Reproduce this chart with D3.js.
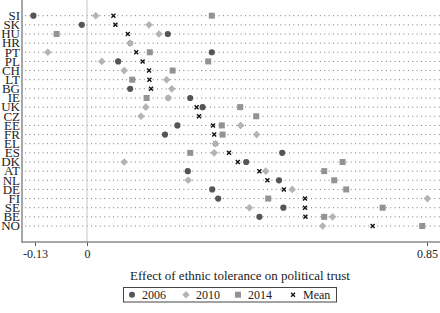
<!DOCTYPE html>
<html>
<head>
<meta charset="utf-8">
<script src="https://cdn.jsdelivr.net/npm/d3@7"></script>
<style>
  body { margin: 0; background: #fff; }
  text { font-family: "Liberation Serif", "DejaVu Serif", serif; fill: #222; }
</style>
</head>
<body>
<div id="chart"></div>
<script>
var countries = ["SI","SK","HU","HR","PT","PL","CH","LT","BG","IE","UK","CZ",
                 "EE","FR","EL","ES","DK","AT","NL","DE","FI","SE","BE","NO"];
var y2006 = [-0.134,-0.013,0.202,null,0.312,0.078,null,null,0.108,0.258,0.289,null,
             0.226,0.195,null,0.488,0.398,0.252,0.480,0.313,0.328,0.491,0.431,null];
var y2010 = [0.022,0.155,0.180,0.108,-0.098,0.037,0.093,0.199,0.212,0.203,0.147,0.135,
             0.384,0.424,0.321,0.318,0.093,0.447,0.253,0.513,0.851,0.406,0.614,0.589];
var y2014 = [0.312,null,-0.076,null,0.157,0.303,0.214,0.113,null,0.149,0.383,0.423,
             0.337,0.339,null,0.258,0.639,0.593,0.618,0.648,0.453,0.739,0.593,0.838];
var means = [0.066,0.071,0.102,0.108,0.123,0.139,0.155,0.156,0.160,0.203,0.274,0.280,
             0.315,0.318,0.321,0.355,0.377,0.431,0.451,0.492,0.545,0.545,0.546,0.714];
var tickVals = [-0.13, 0, 0.85];
var axisTitle = "Effect of ethnic tolerance on political trust";
var legendLabels = ["2006", "2010", "2014", "Mean"];

var width = 440, height = 313;
var left = 22, axisY = 242;

var svg = d3.select("#chart").append("svg")
    .attr("width", width)
    .attr("height", height);

var x = d3.scaleLinear().domain([-0.1625, 0.8825]).range([left, 440]);
var y = d3.scalePoint().domain(countries).range([15.7, 226]);

// dotted row guides
svg.selectAll(".guide")
    .data(countries)
  .enter().append("line")
    .attr("x1", left + 3).attr("x2", width)
    .attr("y1", function(d) { return y(d); })
    .attr("y2", function(d) { return y(d); })
    .style("stroke", "#777")
    .style("stroke-width", 1)
    .style("stroke-dasharray", "1,3.4");

// zero line
svg.append("line")
    .attr("x1", x(0)).attr("x2", x(0))
    .attr("y1", 0).attr("y2", axisY)
    .style("stroke", "#c4c4c4")
    .style("stroke-width", 1);

// axes
svg.append("line")
    .attr("x1", left).attr("x2", left)
    .attr("y1", 0).attr("y2", axisY + 1)
    .style("stroke", "#8a8a8a").style("stroke-width", 1.5);

var xAxis = svg.append("g")
    .attr("transform", "translate(0," + axisY + ")")
    .call(d3.axisBottom(x).tickValues(tickVals).tickSize(4).tickPadding(3)
      .tickFormat(function(d) { return d === 0 ? "0" : String(d); }));
xAxis.select(".domain").remove();
xAxis.selectAll(".tick line").style("stroke", "#555");
xAxis.selectAll(".tick text")
    .style("font-family", '"Liberation Serif", serif')
    .style("font-size", "12px")
    .style("fill", "#222");
svg.append("line")
    .attr("x1", left).attr("x2", width)
    .attr("y1", axisY).attr("y2", axisY)
    .style("stroke", "#8a8a8a").style("stroke-width", 1.5);

// country labels
svg.selectAll(".lab")
    .data(countries)
  .enter().append("text")
    .attr("class", "lab")
    .attr("x", 20)
    .attr("y", function(d) { return y(d); })
    .attr("dy", "0.33em")
    .style("text-anchor", "end")
    .style("font-size", "13px")
    .text(function(d) { return d; });

function pts(vals) {
  return vals.map(function(v, i) { return {c: countries[i], v: v}; })
             .filter(function(d) { return d.v !== null; });
}

var cross = "M-2,-2L2,2M-2,2L2,-2";

// means (drawn underneath)
svg.selectAll(".mean")
    .data(pts(means))
  .enter().append("path")
    .attr("d", cross)
    .attr("transform", function(d) { return "translate(" + x(d.v) + "," + y(d.c) + ")"; })
    .style("stroke", "#111").style("stroke-width", 1.4).style("fill", "none");

svg.selectAll(".s2014")
    .data(pts(y2014))
  .enter().append("rect")
    .attr("x", function(d) { return x(d.v) - 3; })
    .attr("y", function(d) { return y(d.c) - 3; })
    .attr("width", 6).attr("height", 6)
    .style("fill", "#939393");

svg.selectAll(".s2010")
    .data(pts(y2010))
  .enter().append("rect")
    .attr("x", -2.7).attr("y", -2.7)
    .attr("width", 5.4).attr("height", 5.4)
    .attr("transform", function(d) { return "translate(" + x(d.v) + "," + y(d.c) + ") rotate(45)"; })
    .style("fill", "#b4b4b4");

svg.selectAll(".s2006")
    .data(pts(y2006))
  .enter().append("circle")
    .attr("cx", function(d) { return x(d.v); })
    .attr("cy", function(d) { return y(d.c); })
    .attr("r", 3.1)
    .style("fill", "#555");

// axis title
svg.append("text")
    .attr("x", 240).attr("y", 280)
    .style("text-anchor", "middle")
    .style("font-size", "13px")
    .text(axisTitle);

// legend
var lg = svg.append("g");
lg.append("rect")
    .attr("x", 123.5).attr("y", 287.5)
    .attr("width", 213).attr("height", 14.5)
    .style("fill", "none").style("stroke", "#444").style("stroke-width", 1);

var lx = [132, 186, 238, 293];
lg.append("circle").attr("cx", lx[0]).attr("cy", 294.7).attr("r", 3).style("fill", "#555");
lg.append("rect").attr("x", -2.6).attr("y", -2.6).attr("width", 5.2).attr("height", 5.2)
    .attr("transform", "translate(" + lx[1] + ",294.7) rotate(45)").style("fill", "#b4b4b4");
lg.append("rect").attr("x", lx[2] - 3).attr("y", 291.7).attr("width", 6).attr("height", 6)
    .style("fill", "#939393");
lg.append("path").attr("d", cross).attr("transform", "translate(" + lx[3] + ",294.7)")
    .style("stroke", "#111").style("stroke-width", 1.3).style("fill", "none");

lg.selectAll(".lt")
    .data(legendLabels)
  .enter().append("text")
    .attr("x", function(d, i) { return lx[i] + 10; })
    .attr("y", 299)
    .style("font-size", "12px")
    .text(function(d) { return d; });
</script>
</body>
</html>
